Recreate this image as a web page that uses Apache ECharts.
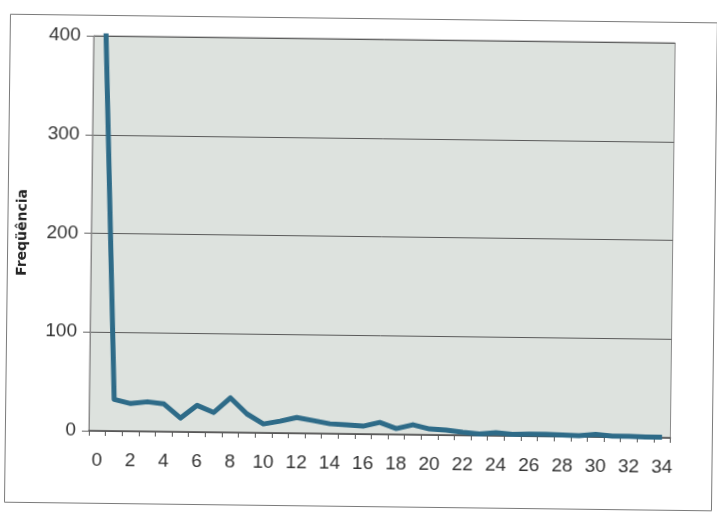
<!DOCTYPE html>
<html>
<head>
<meta charset="utf-8">
<script src="https://cdn.jsdelivr.net/npm/echarts@6/dist/echarts.min.js"></script>
<style>
  html, body { margin: 0; padding: 0; background: #ffffff; overflow: hidden; }
  #chart { width: 717px; height: 517px; transform: rotate(0.7deg); transform-origin: 50% 50%; }
</style>
</head>
<body>
<div id="chart"></div>
<script>
// Categories 0..34
const categories = ["0","1","2","3","4","5","6","7","8","9","10","11","12","13","14","15","16","17","18","19","20","21","22","23","24","25","26","27","28","29","30","31","32","33","34"];
// Frequency values (first value exceeds the 400 axis max and is clipped)
const frequencies = [520, 32, 28, 30, 28, 14, 27, 20, 35, 19, 9, 12, 16, 13, 10, 9, 8, 12, 6, 10, 6, 5, 3, 1.5, 3, 1.5, 2, 2, 1.5, 1, 2.5, 1, 1, 0.5, 0.5];
const yTicks = [0, 100, 200, 300, 400];
const yAxisTitle = "Freqüência";

const chart = echarts.init(document.getElementById('chart'), null, { renderer: 'canvas' });
const font = "'Liberation Sans', Arial, sans-serif";

chart.setOption({
  backgroundColor: '#ffffff',
  animation: false,
  graphic: [{
    type: 'rect',
    shape: { x: 7.5, y: 18.5, width: 707, height: 488 },
    style: { fill: 'none', stroke: '#7a7a7a', lineWidth: 1 },
    silent: true
  }],
  grid: {
    left: 91, right: 44.5, top: 39, bottom: 83,
    show: true,
    backgroundColor: '#dde2de',
    borderColor: '#8a8a8a',
    borderWidth: 1
  },
  xAxis: {
    type: 'category',
    data: categories,
    boundaryGap: true,
    axisLine: { show: true, lineStyle: { color: '#555', width: 1.5 } },
    axisTick: { show: true, interval: 0, alignWithLabel: false, length: 5, lineStyle: { color: '#555' } },
    axisLabel: { interval: 1, margin: 20, fontSize: 19, color: '#333', fontFamily: font },
    splitLine: { show: false }
  },
  yAxis: {
    type: 'value',
    min: yTicks[0],
    max: yTicks[yTicks.length - 1],
    interval: yTicks[1] - yTicks[0],
    name: yAxisTitle,
    nameLocation: 'middle',
    nameGap: 62,
    nameRotate: 90,
    nameTextStyle: { fontSize: 14, fontWeight: 'bold', color: '#222', fontFamily: "'DejaVu Sans', sans-serif" },
    axisLine: { show: true, lineStyle: { color: '#8a8a8a', width: 1 } },
    axisTick: { show: true, length: 7, lineStyle: { color: '#666' } },
    axisLabel: { margin: 13, fontSize: 19, color: '#333', fontFamily: font },
    splitLine: { show: true, lineStyle: { color: '#5a5a5a', width: 1 } }
  },
  series: [{
    type: 'line',
    data: frequencies,
    clip: true,
    symbol: 'none',
    smooth: false,
    lineStyle: { color: '#2e6b88', width: 5, join: 'round' },
    itemStyle: { color: '#2e6b88' }
  }]
});
</script>
</body>
</html>
